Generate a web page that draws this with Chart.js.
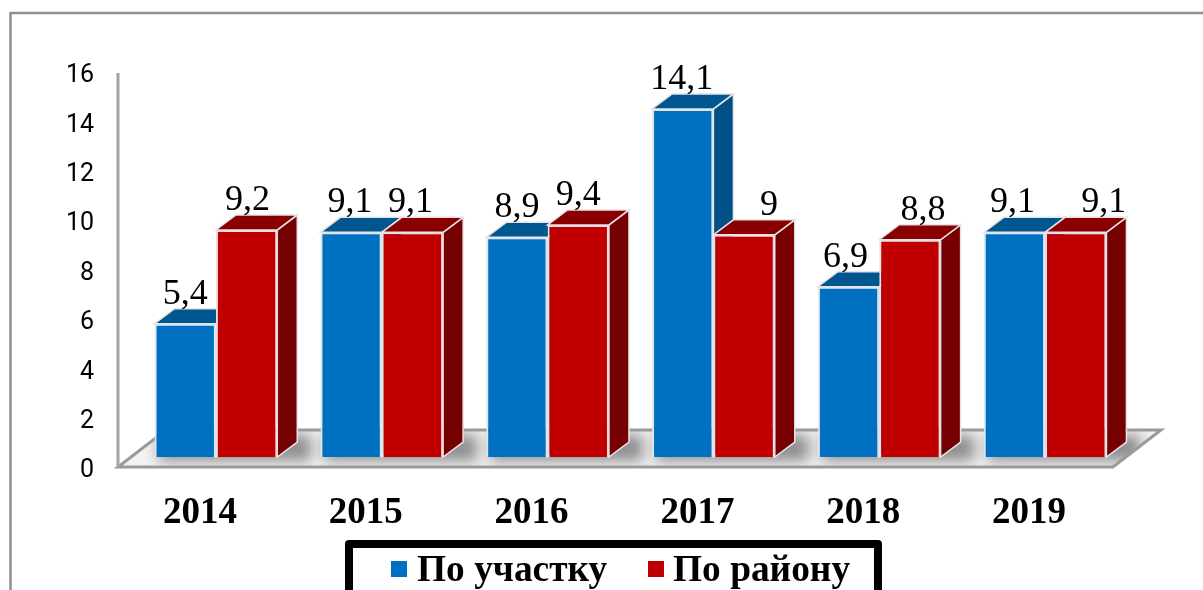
<!DOCTYPE html>
<html>
<head>
<meta charset="utf-8">
<style>
  html, body { margin: 0; padding: 0; background: #fff; overflow: hidden; }
  canvas { display: block; }
</style>
<script src="https://cdn.jsdelivr.net/npm/chart.js@4"></script>
</head>
<body>
<canvas id="chart" width="1203" height="590"></canvas>
<script>
const categories = ['2014', '2015', '2016', '2017', '2018', '2019'];
const uchastokValues = [5.4, 9.1, 8.9, 14.1, 6.9, 9.1];
const raionValues = [9.2, 9.1, 9.4, 9, 8.8, 9.1];
const seriesNames = ['По участку', 'По району'];

// hand-moved data labels in the original, px from bar centre
const uchastokLabelShift = [0, -1, 0, -1, -3, -2];
const raionLabelShift = [1, -2, 0, 25, 13, 28];

const DEPTH_X = 20, DEPTH_Y = 15;
const faceColors = [
  { top: '#00578f', side: '#004f86' },
  { top: '#8a0000', side: '#760000' }
];

function poly(ctx, pts) {
  ctx.beginPath();
  pts.forEach((p, i) => i ? ctx.lineTo(p[0], p[1]) : ctx.moveTo(p[0], p[1]));
  ctx.closePath();
}

const box3d = {
  id: 'box3d',
  beforeDatasetsDraw(chart) {
    const ctx = chart.ctx;
    const { left, bottom, right, top } = chart.chartArea;

    // frame of the picture
    ctx.save();
    ctx.strokeStyle = '#8f8f8f';
    ctx.lineWidth = 2.5;
    ctx.beginPath();
    ctx.moveTo(10.5, 590);
    ctx.lineTo(10.5, 13);
    ctx.lineTo(1203, 13);
    ctx.stroke();

    // floor
    const floor = [[left - 15, bottom + 10], [right - 15, bottom + 10], [right + 33, bottom - 27], [left + 33, bottom - 27]];
    poly(ctx, floor);
    ctx.fillStyle = '#f2f2f2';
    ctx.fill();
    ctx.save();
    poly(ctx, floor);
    ctx.clip();
    ctx.filter = 'blur(7px)';
    ctx.fillStyle = '#8e8e8e';
    const front = chart.getDatasetMeta(0).data;
    const back = chart.getDatasetMeta(1).data;
    front.forEach((bar, i) => {
      const x0 = bar.x - bar.width / 2;
      const x1 = back[i].x + back[i].width / 2;
      ctx.fillRect(x0 + 4, bottom - 22, x1 - x0 + 30, 26);
    });
    ctx.restore();
    poly(ctx, floor);
    ctx.strokeStyle = '#9a9a9a';
    ctx.lineWidth = 3;
    ctx.stroke();

    // value axis line
    ctx.strokeStyle = '#a3a3a3';
    ctx.beginPath();
    ctx.moveTo(left - 15, bottom + 10);
    ctx.lineTo(left - 15, top + 11);
    ctx.stroke();

    // top and side faces, fronts come from the bars themselves
    chart.data.datasets.forEach((ds, d) => {
      chart.getDatasetMeta(d).data.forEach(bar => {
        const x0 = bar.x - bar.width / 2, x1 = bar.x + bar.width / 2;
        poly(ctx, [[x1, bar.y], [x1 + DEPTH_X, bar.y - DEPTH_Y], [x1 + DEPTH_X, bar.base - DEPTH_Y], [x1, bar.base]]);
        ctx.fillStyle = faceColors[d].side;
        ctx.fill();
        ctx.strokeStyle = '#e4e4ea';
        ctx.lineWidth = 1.5;
        ctx.stroke();
        poly(ctx, [[x0, bar.y], [x0 + DEPTH_X, bar.y - DEPTH_Y], [x1 + DEPTH_X, bar.y - DEPTH_Y], [x1, bar.y]]);
        ctx.fillStyle = faceColors[d].top;
        ctx.fill();
        ctx.stroke();
      });
    });
    ctx.restore();
  },
  afterDatasetsDraw(chart) {
    const ctx = chart.ctx;
    ctx.save();
    ctx.fillStyle = '#000';
    ctx.font = '36px "Liberation Serif"';
    ctx.textAlign = 'center';
    ctx.textBaseline = 'alphabetic';
    const shifts = [uchastokLabelShift, raionLabelShift];
    chart.data.datasets.forEach((ds, d) => {
      chart.getDatasetMeta(d).data.forEach((bar, i) => {
        ctx.fillText(String(ds.data[i]).replace('.', ','), bar.x + shifts[d][i], bar.y - 20);
      });
    });

    // legend box runs off the bottom of the picture
    ctx.strokeStyle = '#000';
    ctx.lineWidth = 8;
    ctx.lineJoin = 'round';
    ctx.beginPath();
    ctx.moveTo(349, 600);
    ctx.lineTo(349, 544);
    ctx.lineTo(878, 544);
    ctx.lineTo(878, 600);
    ctx.stroke();

    ctx.font = 'bold 37.4px "Liberation Serif"';
    ctx.textAlign = 'left';
    const markerX = [391, 648];
    const textX = [417, 673];
    chart.data.datasets.forEach((ds, d) => {
      ctx.fillStyle = ds.backgroundColor;
      ctx.fillRect(markerX[d], 561, 16, 16);
      ctx.fillStyle = '#000';
      ctx.fillText(ds.label, textX[d], 581);
    });
    ctx.restore();
  }
};

new Chart(document.getElementById('chart'), {
  type: 'bar',
  data: {
    labels: categories,
    datasets: [
      { label: seriesNames[0], data: uchastokValues, backgroundColor: '#0070c0', borderColor: '#dfe6ee', borderWidth: 2 },
      { label: seriesNames[1], data: raionValues, backgroundColor: '#c00000', borderColor: '#ecdfe2', borderWidth: 2 }
    ]
  },
  options: {
    responsive: false,
    animation: false,
    layout: { padding: { left: 33, right: 75, top: 62, bottom: 0 } },
    datasets: { bar: { categoryPercentage: 0.74, barPercentage: 1 } },
    plugins: { legend: { display: false }, tooltip: { enabled: false } },
    scales: {
      x: {
        grid: { display: false, drawTicks: false },
        border: { display: false },
        afterFit(scale) { scale.height = 133; },
        ticks: {
          color: '#000',
          font: { family: 'Liberation Serif', size: 37, weight: 'bold' },
          padding: 34,
          labelOffset: -16,
          maxRotation: 0,
          autoSkip: false
        }
      },
      y: {
        min: 0,
        max: 16,
        grid: { display: false, drawTicks: false },
        border: { display: false },
        afterFit(scale) { scale.width = 100; },
        ticks: {
          stepSize: 2,
          color: '#000',
          font: { family: 'Roboto', size: 25 },
          padding: 39,
          labelOffset: 14
        }
      }
    }
  },
  plugins: [box3d]
});
</script>
</body>
</html>
